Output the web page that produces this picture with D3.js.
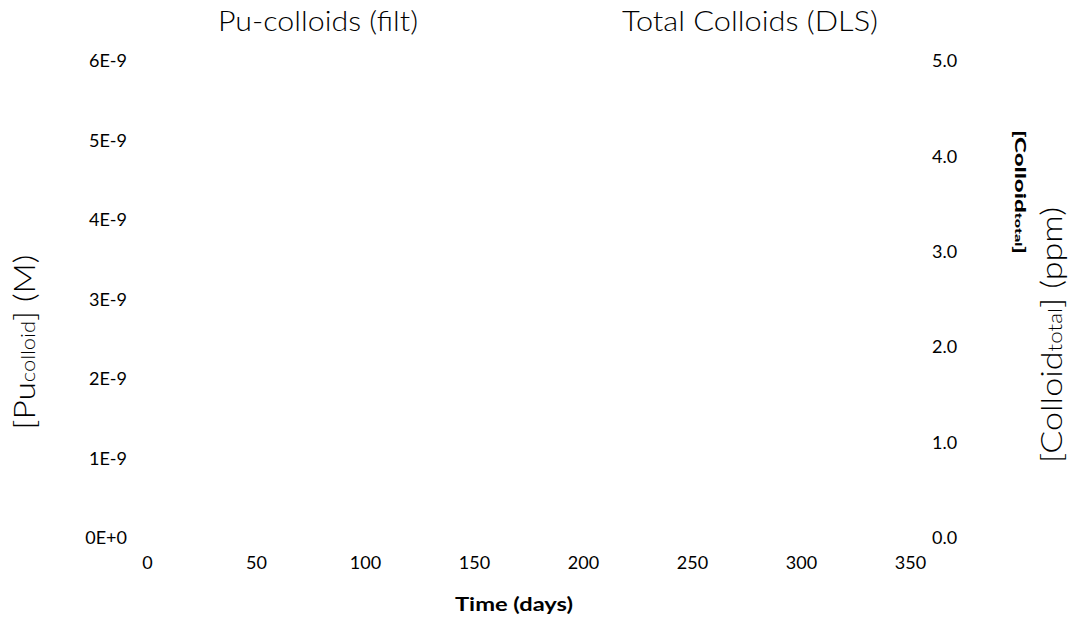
<!DOCTYPE html>
<html>
<head>
<meta charset="utf-8">
<script src="https://cdn.jsdelivr.net/npm/d3@7"></script>
<style>
  body { margin: 0; background: #fff; }
  svg text { font-family: "Century Gothic", Lato, "DejaVu Sans", sans-serif; fill: #000; font-weight: 300; }
</style>
</head>
<body>
<div id="wrapper"></div>
<script>
// series shown in the titles; the reference has no plotted points
const seriesNames = ["Pu-colloids (filt)", "Total Colloids (DLS)"];
const puDays = [];
const puValues = [];
const dlsDays = [];
const dlsValues = [];

const xTicks = [0, 50, 100, 150, 200, 250, 300, 350];
const yLeftTicks = [0, 1e-9, 2e-9, 3e-9, 4e-9, 5e-9, 6e-9];
const yLeftLabels = ["0E+0", "1E-9", "2E-9", "3E-9", "4E-9", "5E-9", "6E-9"];
const yRightTicks = [0, 1, 2, 3, 4, 5];

/* CHART DIMENSIONS */
const dimensions = {
  width: 1070,
  height: 620,
  margin: { top: 61, right: 160, bottom: 82, left: 147 },
};
dimensions.boundedWidth =
  dimensions.width - (dimensions.margin.left + dimensions.margin.right);
dimensions.boundedHeight =
  dimensions.height - (dimensions.margin.top + dimensions.margin.bottom);

/* SCALES */
const xScale = d3.scaleLinear()
  .domain([0, 350])
  .range([0, dimensions.boundedWidth]);

const yLeft = d3.scaleLinear()
  .domain([0, 6e-9])
  .range([dimensions.boundedHeight, 0]);

const yRight = d3.scaleLinear()
  .domain([0, 5])
  .range([dimensions.boundedHeight, 0]);

/* DRAW */
const wrapper = d3.select("#wrapper")
  .append("svg")
  .attr("width", dimensions.width)
  .attr("height", dimensions.height);

const bounds = wrapper.append("g")
  .attr("transform", `translate(${dimensions.margin.left}, ${dimensions.margin.top})`);

// data marks (none visible in the reference)
bounds.selectAll(".pu")
  .data(puDays.map((d, i) => [d, puValues[i]]))
  .join("circle")
  .attr("class", "pu")
  .attr("cx", d => xScale(d[0]))
  .attr("cy", d => yLeft(d[1]))
  .attr("r", 4)
  .attr("fill", "#222");

bounds.selectAll(".dls")
  .data(dlsDays.map((d, i) => [d, dlsValues[i]]))
  .join("circle")
  .attr("class", "dls")
  .attr("cx", d => xScale(d[0]))
  .attr("cy", d => yRight(d[1]))
  .attr("r", 4)
  .attr("fill", "none")
  .attr("stroke", "#222");

/* PERIPHERALS */
const fontStack = "\"Century Gothic\", Lato, \"DejaVu Sans\", sans-serif";

const xAxis = bounds.append("g")
  .attr("transform", `translate(0, ${dimensions.boundedHeight})`)
  .call(d3.axisBottom(xScale).tickValues(xTicks).tickSize(0).tickPadding(18));

const leftAxis = bounds.append("g")
  .call(d3.axisLeft(yLeft).tickValues(yLeftTicks)
    .tickFormat((d, i) => yLeftLabels[i]).tickSize(0).tickPadding(20));

const rightAxis = bounds.append("g")
  .attr("transform", `translate(${dimensions.boundedWidth}, 0)`)
  .call(d3.axisRight(yRight).tickValues(yRightTicks)
    .tickFormat(d3.format(".1f")).tickSize(0).tickPadding(22));

[xAxis, leftAxis, rightAxis].forEach(ax => {
  ax.select(".domain").remove();
  ax.selectAll("text")
    .style("font-family", fontStack)
    .style("font-size", "18px")
    .style("font-weight", "400")
    .attr("fill", "#111");
});

// titles above the plot
wrapper.selectAll(".series-title")
  .data(seriesNames)
  .join("text")
  .attr("class", "series-title")
  .attr("x", (d, i) => [318, 750][i])
  .attr("y", 31)
  .attr("text-anchor", "middle")
  .attr("textLength", (d, i) => [200, 256][i])
  .attr("lengthAdjust", "spacingAndGlyphs")
  .style("font-size", "27px")
  .text(d => d);

// x axis title
wrapper.append("text")
  .attr("x", 514)
  .attr("y", 611)
  .attr("text-anchor", "middle")
  .attr("textLength", 118)
  .attr("lengthAdjust", "spacingAndGlyphs")
  .style("font-size", "18px")
  .style("font-weight", "bold")
  .text("Time (days)");

// left y title
const leftTitle = wrapper.append("text")
  .attr("transform", "translate(35, 342) rotate(-90)")
  .attr("text-anchor", "middle")
  .attr("textLength", 175)
  .attr("lengthAdjust", "spacingAndGlyphs")
  .style("font-size", "29px");
leftTitle.append("tspan").text("[Pu");
leftTitle.append("tspan").style("font-size", "19px").text("colloid");
leftTitle.append("tspan").text("] (M)");

// right y title
const rightTitle = wrapper.append("text")
  .attr("transform", "translate(1062, 335) rotate(-90)")
  .attr("text-anchor", "middle")
  .attr("textLength", 256)
  .attr("lengthAdjust", "spacingAndGlyphs")
  .style("font-size", "29px");
rightTitle.append("tspan").text("[Colloid");
rightTitle.append("tspan").style("font-size", "19px").text("total");
rightTitle.append("tspan").text("] (ppm)");

// small bold duplicate of the right title
const ghost = wrapper.append("text")
  .attr("transform", "translate(1015, 192) rotate(90)")
  .attr("text-anchor", "middle")
  .attr("textLength", 124)
  .attr("lengthAdjust", "spacingAndGlyphs")
  .style("font-size", "15px")
  .style("font-weight", "900");
ghost.append("tspan").text("[Colloid");
ghost.append("tspan").style("font-size", "10px").text("total");
ghost.append("tspan").text("]");
</script>
</body>
</html>
